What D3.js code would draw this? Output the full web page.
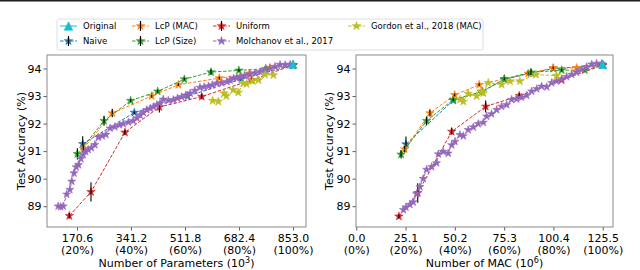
<!DOCTYPE html>
<html lang="en">
<head>
<meta charset="UTF-8">
<title>LcP accuracy vs size</title>
<script src="https://cdn.jsdelivr.net/npm/d3@7"></script>
<style>
body { margin: 0; background: #fff; }
text { font-family: "DejaVu Sans", sans-serif; fill: #000; }
</style>
</head>
<body>
<script>
// ---- data: [x, accuracy, error] ----
var origParams = [[853.0, 94.15]];
var naiveParams = [[188.6, 91.26, 0.28], [351.7, 92.4, 0.05], [520, 93.0, 0], [690, 93.62, 0], [853, 94.12, 0]];
var lcpMacParams = [[190.5, 91.09, 0.15], [282, 92.38, 0.15], [406.6, 93.0, 0.05], [490.7, 93.41, 0.05], [620, 93.65, 0.05], [715, 93.82, 0], [780, 94.03, 0], [853, 94.12, 0]];
var lcpSizeParams = [[171.7, 90.9, 0.2], [256, 92.1, 0.18], [340, 92.83, 0.05], [425.5, 93.17, 0.05], [509.6, 93.61, 0.05], [594, 93.87, 0.1], [682, 93.93, 0.05], [767, 93.99, 0], [853, 94.12, 0]];
var uniformParams = [[146.3, 88.65, 0.1], [214.8, 89.52, 0.35], [322, 91.68, 0.1], [430.7, 92.6, 0.2], [564.6, 92.98, 0.1], [722, 93.58, 0.05], [853, 94.12, 0]];
var molchanovParams = [[111, 89.0], [119, 88.98], [127, 89.0], [138, 89.43], [148, 89.6], [154, 89.9], [161, 90.2], [168, 90.42], [175, 90.5], [183, 90.72], [190, 90.87], [198, 90.98], [206, 91.05], [216, 91.12], [227, 91.23], [238, 91.5], [250, 91.55], [262, 91.6], [275, 91.83], [290, 91.88], [305, 91.95], [317, 91.99], [333, 92.05], [348, 92.1], [360, 92.2], [370, 92.31], [380, 92.4], [391, 92.5], [402, 92.55], [412, 92.61], [423, 92.68], [433, 92.74], [443, 92.88], [459, 92.84], [475, 92.86], [488, 92.92], [501, 92.97], [514, 93.03], [528, 93.1], [543, 93.2], [559, 93.31], [572, 93.33], [586, 93.36], [598, 93.4], [612, 93.46], [628, 93.48], [644, 93.52], [654, 93.58], [665, 93.64], [676, 93.66], [686, 93.7], [700, 93.74], [717, 93.79], [733, 93.83], [749, 93.88], [764, 93.94], [780, 94.0], [796, 94.07], [812, 94.14], [828, 94.13], [844, 94.15]];
var gordonParams = [[599, 92.83], [617, 92.8], [635, 93.1], [642, 93.0], [664, 93.22], [680, 93.13], [696, 93.46], [706, 93.44], [726, 93.55], [744, 93.58], [765, 93.78], [791, 93.76]];

var origMac = [[125.5, 94.15]];
var naiveMac = [[25.3, 91.25, 0.28], [49.4, 92.84, 0.05], [63.8, 93.15, 0.1], [75.4, 93.6, 0], [89, 93.84, 0], [100.3, 94.0, 0], [125.5, 94.12, 0]];
var lcpMacMac = [[24.6, 91.07, 0.12], [37.5, 92.38, 0.12], [50.1, 93.04, 0.05], [62.6, 93.41, 0.05], [75.4, 93.62, 0.05], [87.6, 93.82, 0.05], [100.3, 94.02, 0.05], [112.2, 94.02, 0], [125.5, 94.12, 0]];
var lcpSizeMac = [[22.8, 90.88, 0.15], [35.8, 92.1, 0.15], [49.4, 92.87, 0.05], [64.2, 93.17, 0.05], [75.4, 93.62, 0.05], [89, 93.86, 0.1], [104.6, 93.94, 0.05], [116.4, 93.94, 0], [125.5, 94.12, 0]];
var uniformMac = [[21.7, 88.63, 0.08], [31.3, 89.48, 0.35], [48.6, 91.71, 0.12], [65.9, 92.62, 0.22], [83, 93.01, 0.1], [104.6, 93.58, 0], [125.5, 94.12, 0]];
var molchanovMac = [[24.0, 88.87], [25.3, 88.96], [27.3, 89.06], [29.0, 89.15], [30.7, 89.45], [32.4, 89.7], [34.1, 90.0], [35.8, 90.33], [38.4, 90.43], [40.9, 90.57], [41.8, 90.89], [44.3, 90.98], [46.8, 90.92], [48.6, 91.22], [50.3, 91.35], [52.8, 91.59], [54.5, 91.55], [57.0, 91.77], [59.6, 91.87], [62.1, 91.99], [64.7, 92.04], [66.4, 92.26], [68.9, 92.35], [71.5, 92.5], [74.0, 92.62], [76.6, 92.68], [79.1, 92.87], [81.7, 92.89], [84.2, 92.95], [86.8, 93.02], [89.3, 93.17], [91.9, 93.26], [94.4, 93.35], [97.0, 93.33], [99.5, 93.48], [102.0, 93.54], [104.6, 93.62], [107.1, 93.7], [109.7, 93.78], [112.2, 93.86], [114.8, 93.96], [117.3, 94.06], [119.9, 94.15], [122.4, 94.18], [125.0, 94.18]];
var gordonMac = [[52.8, 92.87], [54.5, 92.8], [57.0, 93.09], [61.3, 93.0], [63.8, 93.17], [64.7, 93.11], [67.2, 93.48], [74.0, 93.42], [78.3, 93.54], [83.3, 93.54], [91.5, 93.78], [102.0, 93.74]];

var paramTicks = [170.6, 341.2, 511.8, 682.4, 853.0];
var macTicks = [0.0, 25.1, 50.2, 75.3, 100.4, 125.5];
var paramPct = ["(20%)", "(40%)", "(60%)", "(80%)", "(100%)"];
var macPct = ["(0%)", "(20%)", "(40%)", "(60%)", "(80%)", "(100%)"];
var yTicks = [89, 90, 91, 92, 93, 94];

var width = 640, height = 270;
var svg = d3.select("body").append("svg").attr("width", width).attr("height", height);

// thin dark band on the very top of the picture
svg.append("rect").attr("x", 0).attr("y", 0).attr("width", width).attr("height", 1.5).attr("fill", "#1c1c1c");

var colors = {
    orig: "#17becf", naive: "#1f77b4", lcpMac: "#ff7f0e", lcpSize: "#2ca02c",
    uniform: "#d62728", molchanov: "#9467bd", gordon: "#bcbd22"
};

var star = d3.symbol().type(d3.symbolStar).size(22);
var starSmall = d3.symbol().type(d3.symbolStar).size(20);
function triangle(s) { return "M0," + (-s / 2) + "L" + (s / 2) + "," + (s / 2) + "L" + (-s / 2) + "," + (s / 2) + "Z"; }

var y = d3.scaleLinear().domain([88.245, 94.49]).range([227, 55]);

var panels = [
    { x0: 47, x1: 306, dom: [75.8, 894], ticks: paramTicks, pct: paramPct, lab: "Number of Parameters (10", sup: "3", ylx: 25,
      series: { naive: naiveParams, lcpMac: lcpMacParams, lcpSize: lcpSizeParams, uniform: uniformParams, molchanov: molchanovParams, gordon: gordonParams, orig: origParams } },
    { x0: 356, x1: 613, dom: [-0.15, 130.75], ticks: macTicks, pct: macPct, lab: "Number of MAC (10", sup: "6", ylx: 333,
      series: { naive: naiveMac, lcpMac: lcpMacMac, lcpSize: lcpSizeMac, uniform: uniformMac, molchanov: molchanovMac, gordon: gordonMac, orig: origMac } }
];

panels.forEach(function(p) {
    var x = d3.scaleLinear().domain(p.dom).range([p.x0, p.x1]);
    var g = svg.append("g");

    // axes
    var xa = g.append("g").attr("transform", "translate(0,227)")
        .call(d3.axisBottom(x).tickValues(p.ticks).tickSize(3.5).tickFormat(d3.format(".1f")));
    xa.selectAll("text").attr("font-size", 11).attr("y", 15).attr("dy", 0);
    xa.selectAll(".tick").append("text").attr("y", 27).attr("font-size", 11).attr("fill", "#000")
        .attr("text-anchor", "middle").text(function(d, i) { return p.pct[i]; });
    var ya = g.append("g").attr("transform", "translate(" + p.x0 + ",0)")
        .call(d3.axisLeft(y).tickValues(yTicks).tickSize(3.5).tickFormat(d3.format("d")));
    ya.selectAll("text").attr("font-size", 11).attr("x", -5.5);
    g.selectAll(".domain").remove();
    g.selectAll(".tick line").attr("stroke", "#333").attr("stroke-width", 0.8);

    var clip = "clip" + p.x0;
    g.append("clipPath").attr("id", clip).append("rect")
        .attr("x", p.x0).attr("y", 55).attr("width", p.x1 - p.x0).attr("height", 172);
    var plot = g.append("g").attr("clip-path", "url(#" + clip + ")");

    var line = d3.line().x(function(d) { return x(d[0]); }).y(function(d) { return y(d[1]); });

    ["naive", "lcpMac", "lcpSize", "uniform", "molchanov", "gordon"].forEach(function(k) {
        var data = p.series[k];
        var s = plot.append("g");
        s.append("path").attr("d", line(data)).attr("fill", "none").attr("stroke", colors[k])
            .attr("stroke-width", 1).attr("stroke-dasharray", "3.5,1.6");
        s.selectAll("path.m").data(data).enter().append("path").attr("class", "m")
            .attr("d", k == "molchanov" ? starSmall : star)
            .attr("transform", function(d) { return "translate(" + x(d[0]) + "," + y(d[1]) + ")"; })
            .attr("fill", colors[k]).attr("stroke", colors[k]).attr("stroke-width", 0.6);
        s.selectAll("line.e").data(data.filter(function(d) { return d[2] > 0; })).enter().append("line")
            .attr("x1", function(d) { return x(d[0]); }).attr("x2", function(d) { return x(d[0]); })
            .attr("y1", function(d) { return y(d[1] - d[2]); }).attr("y2", function(d) { return y(d[1] + d[2]); })
            .attr("stroke", "#000").attr("stroke-width", 1.1);
    });
    plot.selectAll("path.o").data(p.series.orig).enter().append("path").attr("class", "o")
        .attr("d", triangle(8.5))
        .attr("transform", function(d) { return "translate(" + x(d[0]) + "," + y(d[1]) + ")"; })
        .attr("fill", colors.orig).attr("stroke", colors.orig).attr("stroke-width", 0.5);

    // frame
    g.append("rect").attr("x", p.x0).attr("y", 55).attr("width", p.x1 - p.x0).attr("height", 172)
        .attr("fill", "none").attr("stroke", "#8a8a8a").attr("stroke-width", 1);

    // labels
    var xl = g.append("text").attr("x", (p.x0 + p.x1) / 2).attr("y", 266.5).attr("text-anchor", "middle")
        .attr("font-size", 11).text(p.lab);
    xl.append("tspan").attr("dy", -4).attr("font-size", 8).text(p.sup);
    xl.append("tspan").attr("dy", 4).text(")");
    g.append("text").attr("transform", "translate(" + p.ylx + ",141) rotate(-90)")
        .attr("text-anchor", "middle").attr("font-size", 11).text("Test Accuracy (%)");
});

// legend
var legend = svg.append("g");
legend.append("rect").attr("x", 57).attr("y", 19).attr("width", 426).attr("height", 31).attr("rx", 2)
    .attr("fill", "#fff").attr("fill-opacity", 0.8).attr("stroke", "#d6d6d6").attr("stroke-width", 0.8);
var entries = [
    { k: "orig", t: "Original", hx: 60, ty: 26, err: false, dash: false },
    { k: "naive", t: "Naive", hx: 60, ty: 41, err: true, dash: true },
    { k: "lcpMac", t: "LcP (MAC)", hx: 132, ty: 26, err: true, dash: true },
    { k: "lcpSize", t: "LcP (Size)", hx: 132, ty: 41, err: true, dash: true },
    { k: "uniform", t: "Uniform", hx: 213, ty: 26, err: true, dash: true },
    { k: "molchanov", t: "Molchanov et al., 2017", hx: 213, ty: 41, err: false, dash: true },
    { k: "gordon", t: "Gordon et al., 2018 (MAC)", hx: 348, ty: 26, err: false, dash: true }
];
entries.forEach(function(e) {
    legend.append("line").attr("x1", e.hx).attr("x2", e.hx + 17).attr("y1", e.ty).attr("y2", e.ty)
        .attr("stroke", colors[e.k]).attr("stroke-width", 1).attr("stroke-dasharray", e.dash ? "3.5,1.6" : null);
    legend.append("path").attr("d", e.k == "orig" ? triangle(8.5) : star)
        .attr("transform", "translate(" + (e.hx + 8.5) + "," + e.ty + ")")
        .attr("fill", colors[e.k]).attr("stroke", colors[e.k]).attr("stroke-width", 0.6);
    if (e.err) {
        legend.append("line").attr("x1", e.hx + 8.5).attr("x2", e.hx + 8.5).attr("y1", e.ty - 5).attr("y2", e.ty + 5)
            .attr("stroke", "#000").attr("stroke-width", 1.1);
    }
    legend.append("text").attr("x", e.hx + 23).attr("y", e.ty).attr("dy", "0.35em").attr("font-size", 8.5).text(e.t);
});
</script>
</body>
</html>
